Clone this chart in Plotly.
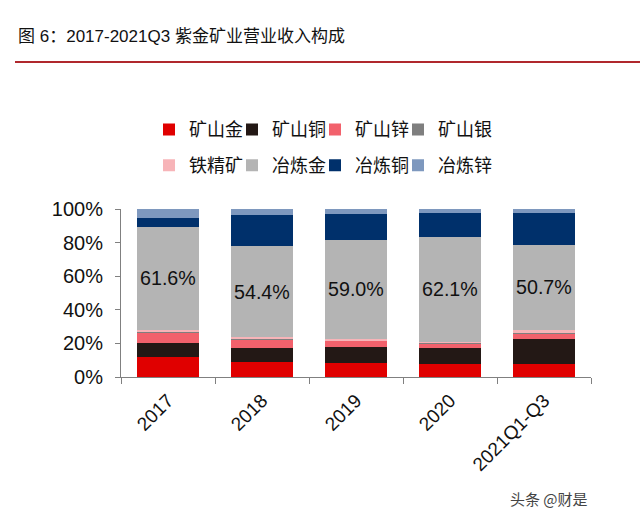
import plotly.graph_objects as go

categories = ["2017", "2018", "2019", "2020", "2021Q1-Q3"]

mine_gold = [12.0, 9.0, 8.4, 8.0, 8.0]
mine_copper = [8.5, 8.1, 9.5, 9.3, 14.5]
mine_zinc = [6.0, 5.4, 3.6, 2.8, 3.4]
mine_silver = [0.4, 0.3, 0.3, 0.3, 0.3]
iron_ore = [1.0, 0.8, 0.8, 0.6, 1.7]
smelt_gold = [61.6, 54.4, 59.0, 62.1, 50.7]
smelt_copper = [5.0, 18.3, 15.3, 14.4, 18.9]
smelt_zinc = [5.5, 3.7, 3.1, 2.5, 2.5]

series = [
    ("矿山金", mine_gold, "#E00000", "legend"),
    ("矿山铜", mine_copper, "#231815", "legend"),
    ("矿山锌", mine_zinc, "#F2616C", "legend"),
    ("矿山银", mine_silver, "#7F7F7F", "legend"),
    ("铁精矿", iron_ore, "#F7B4B8", "legend2"),
    ("冶炼金", smelt_gold, "#B4B4B4", "legend2"),
    ("冶炼铜", smelt_copper, "#00306B", "legend2"),
    ("冶炼锌", smelt_zinc, "#7E98BE", "legend2"),
]
last_in_row = {"矿山银", "冶炼锌"}

CJK = "Noto Sans CJK SC"
NUM = "Liberation Sans, Arial"
MIX = "Liberation Sans, Noto Sans CJK SC"

fig = go.Figure()
for name, vals, color, lg in series:
    kw = {}
    if name == "冶炼金":
        kw = dict(
            text=[f"{v:.1f}%" for v in vals],
            textposition="inside",
            insidetextanchor="middle",
            textangle=0,
            textfont=dict(family=NUM, size=20, color="#111111"),
        )
    fig.add_trace(go.Bar(
        x=categories, y=vals, name=name, marker=dict(color=color, line=dict(width=0)),
        legend=lg, legendwidth=58 if name in last_in_row else 38,
        hoverinfo="skip", **kw
    ))

legend_common = dict(
    orientation="h", xanchor="left", yanchor="middle",
    font=dict(family=CJK, size=18, color="#111111"),
    bgcolor="rgba(0,0,0,0)", traceorder="normal", itemwidth=30,
)

fig.update_layout(
    width=640, height=522,
    barmode="stack", bargap=0.34,
    paper_bgcolor="white", plot_bgcolor="white",
    margin=dict(l=121, r=49, t=209, b=145),
    uniformtext=dict(mode="show", minsize=8),
    title=dict(
        text="图 6：2017-2021Q3 紫金矿业营业收入构成",
        font=dict(family=MIX, size=17, color="#111111"),
        x=18 / 640, xref="container", xanchor="left",
        y=1 - 36 / 522, yref="container", yanchor="middle",
    ),
    legend=dict(x=(149 - 121) / 470, y=1.472, **legend_common),
    legend2=dict(x=(149 - 121) / 470, y=1.258, **legend_common),
    xaxis=dict(
        showline=True, linecolor="#808080", linewidth=1,
        ticks="outside", tickson="boundaries", ticklen=6, tickcolor="#808080",
        tickangle=-45, ticklabelstandoff=4,
        tickfont=dict(family=NUM, size=19, color="#111111"),
        showgrid=False, automargin=False,
    ),
    yaxis=dict(
        range=[0, 100], dtick=20, ticksuffix="%",
        showline=True, linecolor="#808080", linewidth=1,
        ticks="outside", ticklen=5, tickcolor="#808080",
        ticklabelstandoff=8,
        tickfont=dict(family=NUM, size=20, color="#111111"),
        showgrid=False, zeroline=False, automargin=False,
    ),
    shapes=[dict(
        type="line", xref="paper", yref="paper",
        x0=(15 - 121) / 470, x1=(640 - 121) / 470,
        y0=(377 - 63) / 167.5, y1=(377 - 63) / 167.5,
        line=dict(color="#B0282D", width=2),
    )],
    annotations=[dict(
        text="头条 @财是", xref="paper", yref="paper",
        x=(590 - 121) / 470, y=(377 - 498) / 167.5,
        xanchor="right", yanchor="middle", showarrow=False,
        font=dict(family=CJK, size=15, color="#444444"),
    )],
)

fig.write_html(
    "out.html",
    config={"displayModeBar": False},
    post_script="document.body.style.margin='0';document.body.style.padding='0';",
)
